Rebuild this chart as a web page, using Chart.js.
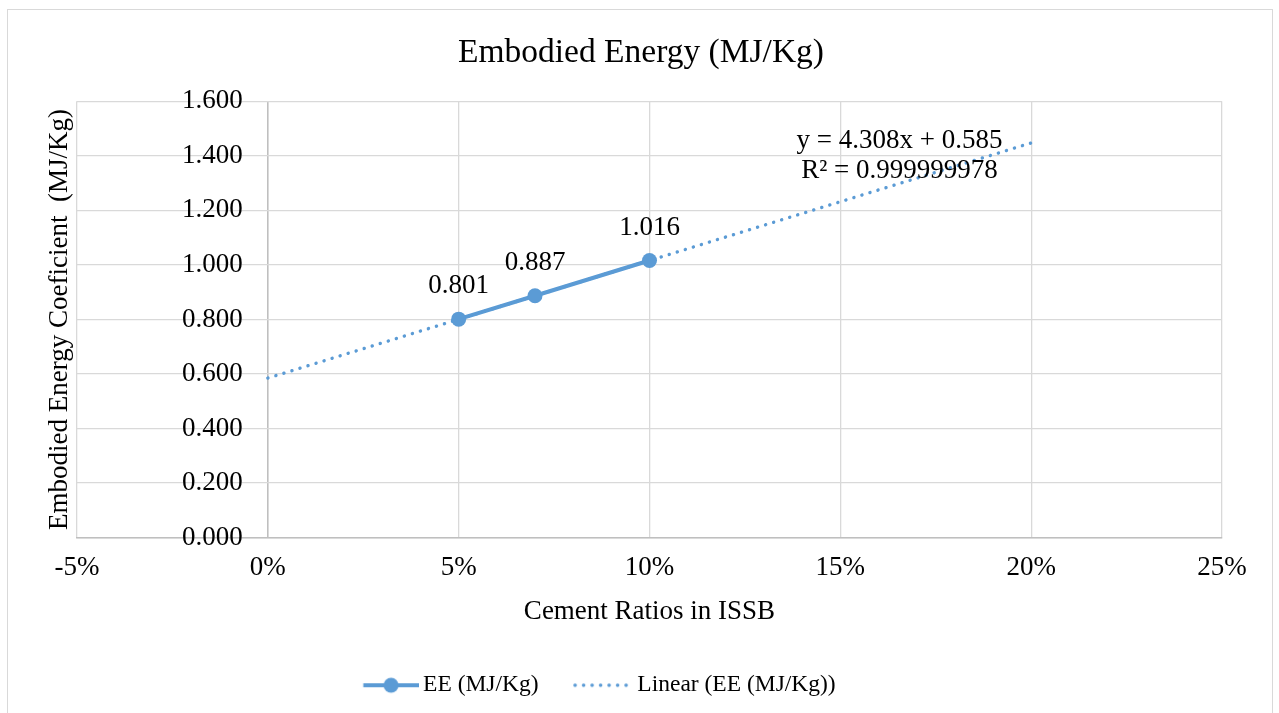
<!DOCTYPE html>
<html>
<head>
<meta charset="utf-8">
<script src="https://cdn.jsdelivr.net/npm/chart.js@4.4.0/dist/chart.umd.min.js"></script>
<style>
  body { margin: 0; background: #fff; }
  #frame { position: absolute; left: 7px; top: 9px; width: 1264px; height: 720px;
           border: 1px solid #d9d9d9; overflow: hidden; background: #fff; }
  #chart { display: block; }
</style>
</head>
<body>
<div id="frame"><canvas id="chart" width="1264" height="703"></canvas></div>
<script>
const serif = "'Liberation Serif', 'Times New Roman', serif";
const blue = '#5b9bd5';

// data
const ratios = [0.05, 0.07, 0.10];
const eeValues = [0.801, 0.887, 1.016];
const trendRatios = [0, 0.20];
const trendValues = [0.585, 1.447];
const xTickValues = [-0.05, 0, 0.05, 0.10, 0.15, 0.20, 0.25];
const yTickValues = [0, 0.2, 0.4, 0.6, 0.8, 1.0, 1.2, 1.4, 1.6];
const equationLines = ['y = 4.308x + 0.585', 'R\u00b2 = 0.999999978'];
const eqAnchor = { x: 0.1655, y: 1.454 };
// y labels sit a little left of the 0% axis line
const yLabelAt = -0.0066;
// Excel puts the legend a bit left of centre
const legendShift = 51;

// legend symbols (wide canvas, drawn on its right part)
function lineIcon() {
  const c = document.createElement('canvas');
  c.width = 82; c.height = 18;
  const g = c.getContext('2d');
  g.strokeStyle = blue; g.lineWidth = 4;
  g.beginPath(); g.moveTo(26.5, 9); g.lineTo(82, 9); g.stroke();
  g.fillStyle = blue;
  g.beginPath(); g.arc(54.25, 9, 7.5, 0, Math.PI * 2); g.fill();
  return c;
}
function dotIcon() {
  const c = document.createElement('canvas');
  c.width = 82; c.height = 18;
  const g = c.getContext('2d');
  g.fillStyle = blue;
  for (let i = 0; i < 7; i++) {
    g.beginPath(); g.arc(24 + i * 8.5, 9, 1.8, 0, Math.PI * 2); g.fill();
  }
  return c;
}

const pointLabels = {
  id: 'pointLabels',
  afterDatasetsDraw(chart) {
    const ctx = chart.ctx;
    const xs = chart.scales.x, ys = chart.scales.y;
    ctx.save();
    ctx.font = '27px ' + serif;
    ctx.fillStyle = '#000';
    ctx.textAlign = 'center';
    ctx.textBaseline = 'middle';
    chart.getDatasetMeta(0).data.forEach((pt, i) => {
      ctx.fillText(eeValues[i].toFixed(3), pt.x, pt.y - 33);
    });
    const ex = xs.getPixelForValue(eqAnchor.x);
    const ey = ys.getPixelForValue(eqAnchor.y);
    equationLines.forEach((t, i) => ctx.fillText(t, ex, ey + i * 30));
    ctx.restore();
  }
};

const moveLegend = {
  id: 'moveLegend',
  afterLayout(chart) {
    chart.legend.left -= legendShift;
    chart.legend.right -= legendShift;
  }
};

new Chart(document.getElementById('chart'), {
  type: 'line',
  data: {
    datasets: [{
      label: 'EE (MJ/Kg)',
      data: ratios.map((r, i) => ({ x: r, y: eeValues[i] })),
      borderColor: blue,
      backgroundColor: blue,
      borderWidth: 4,
      pointRadius: 7.5,
      pointHoverRadius: 7.5,
      pointBorderWidth: 0,
      pointStyle: 'circle',
      legendIcon: lineIcon()
    }, {
      label: 'Linear (EE (MJ/Kg))',
      data: trendRatios.map((r, i) => ({ x: r, y: trendValues[i] })),
      borderColor: blue,
      borderWidth: 3.4,
      borderDash: [0.1, 8.3],
      borderCapStyle: 'round',
      pointRadius: 0,
      legendIcon: dotIcon()
    }]
  },
  options: {
    responsive: false,
    animation: false,
    layout: { padding: { left: 52, right: 50, top: 0, bottom: 6 } },
    plugins: {
      title: {
        display: true,
        text: 'Embodied Energy (MJ/Kg)',
        color: '#000',
        font: { family: serif, size: 33.5, weight: 'normal' },
        padding: { top: 23, bottom: 28 }
      },
      legend: {
        position: 'bottom',
        labels: {
          color: '#000',
          font: { family: serif, size: 23.5 },
          usePointStyle: true,
          pointStyleWidth: 67,
          padding: 20,
          generateLabels(chart) {
            return chart.data.datasets.map((ds, i) => ({
              text: ds.label,
              pointStyle: ds.legendIcon,
              fontColor: '#000',
              datasetIndex: i,
              lineWidth: 0,
              strokeStyle: 'transparent',
              fillStyle: 'transparent'
            }));
          }
        }
      },
      tooltip: { enabled: false }
    },
    scales: {
      x: {
        type: 'linear',
        min: -0.05,
        max: 0.25,
        afterBuildTicks: s => { s.ticks = xTickValues.map(v => ({ value: v })); },
        ticks: {
          color: '#000',
          font: { family: serif, size: 27 },
          padding: 14,
          callback: v => Math.round(v * 100) + '%'
        },
        grid: {
          color: c => (c.tick && c.tick.value === 0 ? '#bfbfbf' : '#d9d9d9'),
          lineWidth: c => (c.tick && c.tick.value === 0 ? 1.6 : 1.3),
          drawTicks: false
        },
        border: { color: '#bfbfbf', width: 1.5 },
        title: {
          display: true,
          text: 'Cement Ratios in ISSB',
          color: '#000',
          font: { family: serif, size: 27 },
          padding: { top: -2, bottom: 25 }
        }
      },
      y: {
        type: 'linear',
        position: { x: yLabelAt },
        min: 0,
        max: 1.6,
        afterBuildTicks: s => { s.ticks = yTickValues.map(v => ({ value: v })); },
        ticks: {
          color: '#000',
          font: { family: serif, size: 27 },
          padding: 0,
          callback: v => v.toFixed(3)
        },
        grid: { color: '#d9d9d9', lineWidth: 1.3, drawTicks: false },
        border: { display: false }
      },
      yTitle: {
        type: 'linear',
        position: 'left',
        min: 0,
        max: 1,
        ticks: { display: false },
        grid: { display: false, drawTicks: false },
        border: { display: false },
        title: {
          display: true,
          text: 'Embodied Energy Coeficient  (MJ/Kg)',
          color: '#000',
          font: { family: serif, size: 27 },
          padding: { top: -16, bottom: 0.6 }
        }
      }
    }
  },
  plugins: [pointLabels, moveLegend]
});
</script>
</body>
</html>
